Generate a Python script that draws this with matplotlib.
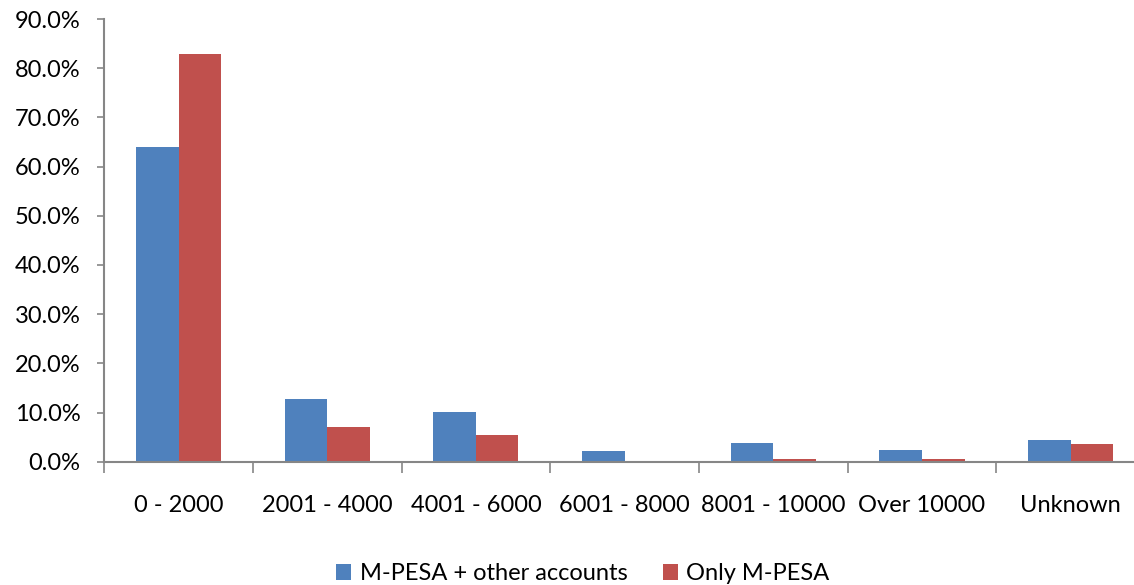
import matplotlib
matplotlib.use("Agg")
import matplotlib.pyplot as plt
import numpy as np
from matplotlib.patches import Patch

categories = ["0 - 2000", "2001 - 4000", "4001 - 6000", "6001 - 8000",
              "8001 - 10000", "Over 10000", "Unknown"]
mpesa_other = [64.0, 12.7, 10.1, 2.1, 3.8, 2.4, 4.4]
only_mpesa = [82.9, 7.0, 5.4, 0.0, 0.5, 0.5, 3.6]
series_names = ["M-PESA + other accounts", "Only M-PESA"]
colors = ["#4F81BD", "#C0504D"]

plt.rcParams['font.family'] = ['Lato', 'DejaVu Sans']

W, H = 1134, 585
fig = plt.figure(figsize=(W / 100, H / 100), dpi=100)
left = 104.3 / W
right = 1145.0 / W
bottom = 1 - 461.7 / H
top = 1 - 19.0 / H
ax = fig.add_axes([left, bottom, right - left, top - bottom])

x = np.arange(len(categories))
bw = 0.286
ax.bar(x - bw / 2, mpesa_other, width=bw, color=colors[0], label=series_names[0])
ax.bar(x + bw / 2, only_mpesa, width=bw, color=colors[1], label=series_names[1])

ax.set_xlim(-0.5, len(categories) - 0.5)
ax.set_ylim(0, 90)
ax.set_yticks(np.arange(0, 91, 10))
ax.set_yticklabels([f"{v:.1f}%" for v in np.arange(0, 91, 10)], fontsize=17, color="#000000")

ax.set_xticks(np.arange(-0.5, len(categories), 1.0))
ax.set_xticklabels([])
ax.set_xticks(x, minor=True)
ax.set_xticklabels(categories, minor=True, fontsize=17)
ax.tick_params(axis='x', which='major', length=8, width=1.2, color="#868686", direction='out')
ax.tick_params(axis='x', which='minor', length=0, pad=24)
ax.tick_params(axis='y', length=5, width=1.2, color="#868686", direction='out', pad=12)

for s in ['top', 'right']:
    ax.spines[s].set_visible(False)
for s in ['left', 'bottom']:
    ax.spines[s].set_color("#868686")
    ax.spines[s].set_linewidth(1.5)

handles = [Patch(facecolor=c, label=n) for c, n in zip(colors, series_names)]
fig.legend(handles=handles, loc='center', bbox_to_anchor=(0.514, 1 - 574 / H),
           ncol=2, frameon=False, fontsize=17, handlelength=0.65, handleheight=0.65,
           handletextpad=0.35, columnspacing=1.5)

fig.savefig("out.png", dpi=100)
